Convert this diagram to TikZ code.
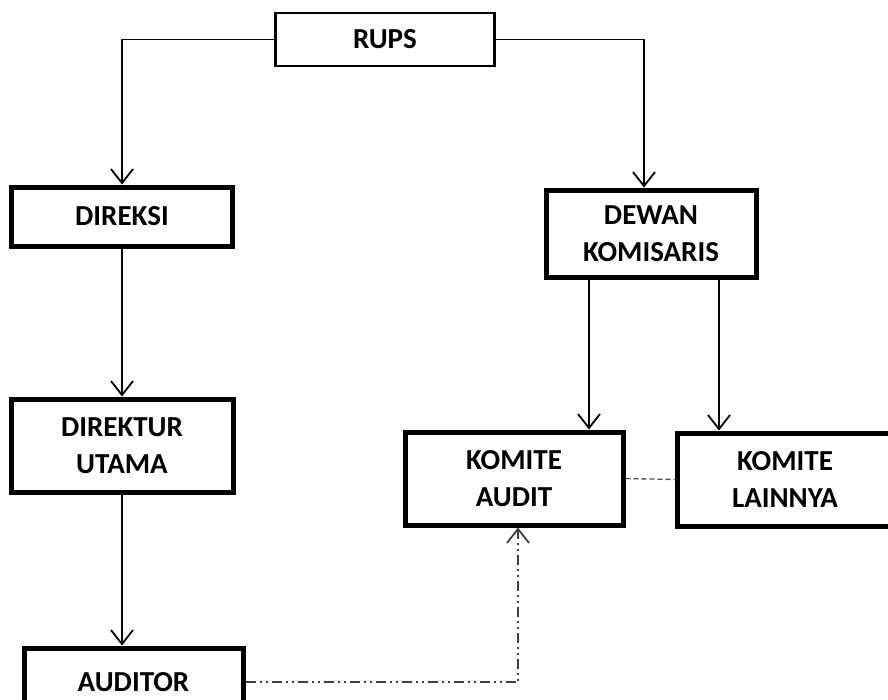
\documentclass[tikz,border=0pt]{standalone}
\usepackage{fontspec}
\setmainfont{Carlito}
\usetikzlibrary{arrows.meta,calc}
\tikzset{
  box/.style={draw, line width=5pt, align=center, inner sep=0pt,
    font=\bfseries\fontsize{29}{36.5}\selectfont},
  thinbox/.style={box, line width=2.2pt},
  conn/.style={line width=1.8pt, -{Straight Barb[length=14pt,width=22pt,line width=1.8pt]}},
  plain/.style={line width=1.8pt},
  dashlink/.style={line width=1.3pt, draw=black!70, dash pattern=on 5pt off 3pt},
  ddlink/.style={line width=1.8pt, draw=black!75,
    dash pattern=on 10pt off 4pt on 2pt off 4pt on 2pt off 4pt},
  ddarrow/.style={ddlink, -{Straight Barb[length=14pt,width=22pt,line width=1.8pt]}}
}
\begin{document}
\begin{tikzpicture}[x=1pt,y=-1pt]
\useasboundingbox (0,0) rectangle (888,699);
\clip (0,0) rectangle (888,699);
\fill[white] (0,0) rectangle (888,699);

\node[thinbox, minimum width=219pt, minimum height=53pt] (rups) at (385,39.5) {RUPS};
\node[box, minimum width=221pt, minimum height=59pt] (direksi) at (122,216.5) {DIREKSI};
\node[box, minimum width=222pt, minimum height=93pt] (direktur) at (122,445.5) {DIREKTUR\\UTAMA};
\node[box, minimum width=219pt, minimum height=68pt] (auditor) at (133.5,682) {AUDITOR};
\node[box, minimum width=210pt, minimum height=87pt] (dewan) at (651,233.5) {DEWAN\\KOMISARIS};
\node[box, minimum width=218pt, minimum height=93pt] (audit) at (514,478.5) {KOMITE\\AUDIT};
\node[box, minimum width=216pt, minimum height=93pt] (lain) at (785,479.5) {KOMITE\\LAINNYA};

\coordinate (dwl) at ($(dewan.south)+(-62,0)$);
\coordinate (dwr) at ($(dewan.south)+(68,0)$);
\coordinate (rr) at ($(dewan.north)+(-7,0)$);
\coordinate (aud) at ($(audit.south)+(4,0)$);

\draw[conn] (rups.west) -| (direksi.north);
\draw[conn] (rups.east) -| (rr);
\draw[conn] (direksi.south) -- (direktur.north);
\draw[conn] (direktur.south) -- (direktur.south |- auditor.north);
\draw[conn] (dwl) -- (dwl |- audit.north);
\draw[conn] (dwr) -- (dwr |- lain.north);
\draw[dashlink] (audit.east) -- (lain.west);
\draw[ddarrow] (auditor.east) -| (aud);
\end{tikzpicture}
\end{document}
